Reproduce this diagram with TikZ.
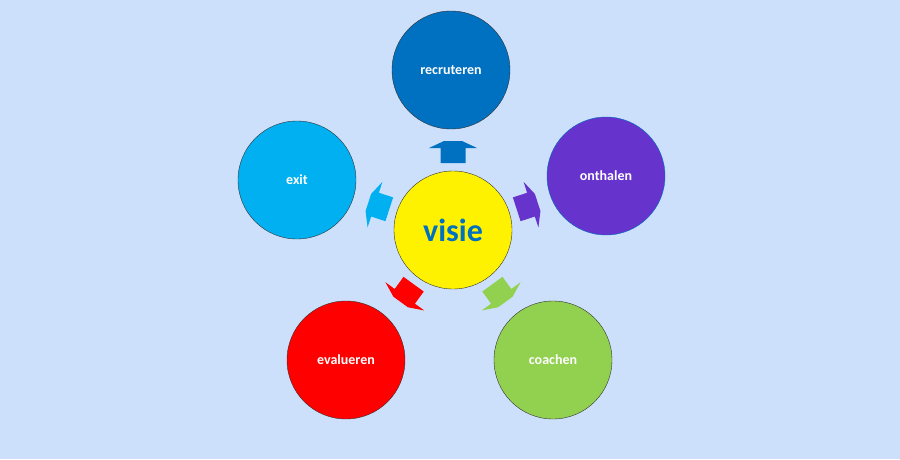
\documentclass[tikz,border=0pt]{standalone}
\usepackage{fontspec}
\setmainfont{Carlito}
\definecolor{bg}{HTML}{CCE0FC}
\definecolor{cRec}{HTML}{0070C0}
\definecolor{cOnt}{HTML}{6633CC}
\definecolor{cCoa}{HTML}{92D050}
\definecolor{cEva}{HTML}{FF0000}
\definecolor{cExi}{HTML}{00B0F0}
\tikzset{
  fase/.style={draw=black!80, circle, minimum size=118pt, inner sep=0pt,
    text=white, font=\bfseries\fontsize{14}{16}\selectfont},
  kern/.style={draw=black!80, circle, fill=yellow, minimum size=118pt, inner sep=0pt,
    text=cRec, font=\bfseries\fontsize{32}{36}\selectfont},
}
\begin{document}
\begin{tikzpicture}[x=1pt,y=1pt]
  \fill[bg] (0,0) rectangle (900,459);
  \useasboundingbox (0,0) rectangle (900,459);
  \node[kern] (visie) at (453,229) {visie};
  \node[fase, fill=cRec] (recruteren) at (451,389) {recruteren};
  \node[fase, fill=cOnt, draw=cRec] (onthalen) at (606,283) {onthalen};
  \node[fase, fill=cCoa] (coachen) at (553,99) {coachen};
  \node[fase, fill=cEva] (evalueren) at (346,99) {evalueren};
  \node[fase, fill=cExi] (exit) at (297,279) {exit};
  % pijlen vanuit de visie
  \foreach \hoek/\kleur in {90/cRec, 18/cOnt, -54/cCoa, -126/cEva, 162/cExi}
    \fill[\kleur, shift={(visie.center)}, rotate=\hoek]
      (67,-12.5) -- (82,-12.5) -- (82,-24) -- (89,-9) -- (89,9)
      -- (82,24) -- (82,12.5) -- (67,12.5) -- cycle;
\end{tikzpicture}
\end{document}
